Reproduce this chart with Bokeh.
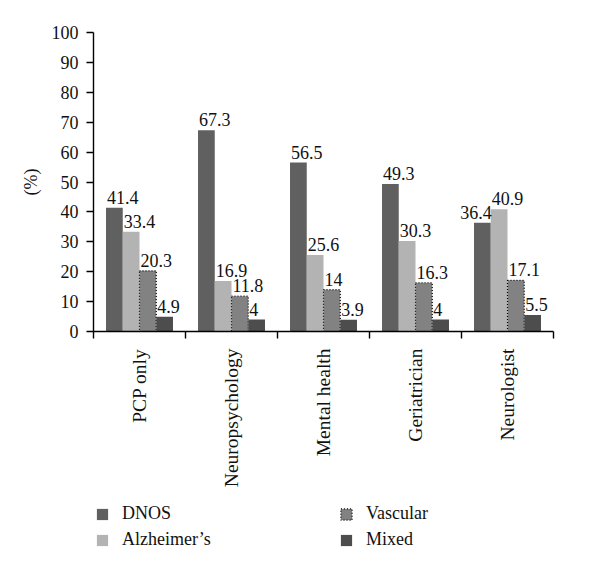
import math
from bokeh.plotting import figure
from bokeh.layouts import column
from bokeh.models import (ColumnDataSource, Range1d, FixedTicker, Legend, LegendItem)
from bokeh.transform import dodge
from bokeh.core.properties import value
from bokeh.embed import file_html
from bokeh.resources import INLINE

categories = ["PCP only", "Neuropsychology", "Mental health", "Geriatrician", "Neurologist"]
dnos = [41.4, 67.3, 56.5, 49.3, 36.4]
alzheimers = [33.4, 16.9, 25.6, 30.3, 40.9]
vascular = [20.3, 11.8, 14, 16.3, 17.1]
mixed = [4.9, 4, 3.9, 4, 5.5]
series_names = ["DNOS", "Alzheimer\u2019s", "Vascular", "Mixed"]
y_ticks = list(range(0, 101, 10))

FONT = "Liberation Serif"
W = 0.182
H1 = 495

xs = list(range(1, len(categories) + 1))
fields = ["dnos", "alz", "vasc", "mixed"]
series = [dnos, alzheimers, vascular, mixed]
data = dict(x=xs)
for f, s in zip(fields, series):
    data[f] = s
src = ColumnDataSource(data)

# label placement: left-aligned at the bar's left edge, unless the next bar is taller
# (then right-aligned at the bar's right edge so the labels don't collide)
offsets = [-1.5 * W, -0.5 * W, 0.5 * W, 1.5 * W]
lab_x, lab_y, lab_t, lab_a = [], [], [], []
for k, (s, off) in enumerate(zip(series, offsets)):
    nxt = series[k + 1] if k + 1 < len(series) else None
    for i, v in enumerate(s):
        right = nxt is not None and nxt[i] > v
        lab_x.append(xs[i] + off + (W / 2 if right else -W / 2))
        lab_y.append(v)
        lab_t.append(f"{v:g}")
        lab_a.append("right" if right else "left")
lab_src = ColumnDataSource(dict(x=lab_x, y=lab_y, t=lab_t, a=lab_a))

p = figure(width=600, height=H1, output_backend="svg", toolbar_location=None,
           x_range=Range1d(0.5, len(categories) + 0.5), y_range=Range1d(0, 100),
           min_border_left=93, min_border_right=47, min_border_top=32, min_border_bottom=H1 - 331)
p.outline_line_color = None
p.grid.visible = False
p.background_fill_color = "white"

styles = [dict(fill_color="#606060", line_color=None),
          dict(fill_color="#b3b3b3", line_color=None),
          dict(fill_color="#828282", line_color="black", line_width=1.2, line_dash="1 2"),
          dict(fill_color="#4d4d4d", line_color=None)]
for f, st, off in zip(fields, styles, offsets):
    p.vbar(x=dodge("x", off), top=f, width=W, source=src, **st)
p.text(x="x", y="y", text="t", text_align="a", source=lab_src, x_offset=1, y_offset=-4,
       text_baseline="bottom", text_font=value(FONT),
       text_font_size="18px", text_color="#111111")

# y axis
ya = p.yaxis[0]
ya.ticker = FixedTicker(ticks=y_ticks)
ya.axis_label = "(%)"
ya.axis_label_text_font = FONT
ya.axis_label_text_font_style = "normal"
ya.axis_label_text_font_size = "18px"
ya.axis_label_text_color = "#111111"
ya.axis_label_standoff = 8
ya.major_label_text_font = FONT
ya.major_label_text_font_size = "18px"
ya.major_label_text_color = "#111111"
ya.major_tick_in = 0
ya.major_tick_out = 7
ya.minor_tick_line_color = None
ya.major_label_standoff = 8
ya.axis_line_width = 1.4
ya.major_tick_line_width = 1.4

# x axis
xa = p.xaxis[0]
xa.ticker = FixedTicker(ticks=xs, minor_ticks=[x - 0.5 for x in xs] + [xs[-1] + 0.5])
xa.major_label_overrides = {x: c for x, c in zip(xs, categories)}
xa.major_label_orientation = math.pi / 2
xa.major_label_text_font = FONT
xa.major_label_text_font_size = "19.5px"
xa.major_label_text_color = "#111111"
xa.major_tick_line_color = None
xa.major_tick_out = 7
xa.major_tick_in = 0
xa.minor_tick_in = 0
xa.minor_tick_out = 7
xa.minor_tick_line_width = 1.4
xa.minor_tick_line_color = "black"
xa.major_label_standoff = 10
xa.axis_line_width = 1.4

# legend strip (same bars, hidden and far outside this strip's visible range)
H2 = 571 - H1
pl = figure(width=600, height=H2, output_backend="svg", toolbar_location=None,
            x_range=Range1d(1000, 1001), y_range=Range1d(-5000, -4999),
            x_axis_location=None, y_axis_location=None, min_border=0)
pl.outline_line_color = None
pl.grid.visible = False
leg_renderers = [pl.vbar(x=dodge("x", off), top=f, width=W, source=src, visible=False, **st)
                 for f, st, off in zip(fields, styles, offsets)]
legend = Legend(items=[LegendItem(label=n, renderers=[r]) for n, r in zip(series_names, leg_renderers)],
                orientation="vertical", ncols=2,
                location=(2, 21), padding=0, margin=0, border_line_alpha=0,
                background_fill_alpha=0, inactive_fill_alpha=0,
                label_text_font=FONT, label_text_font_size="18px", label_text_color="#111111",
                glyph_width=14, glyph_height=14, label_standoff=13, spacing=5,
                label_height=20, label_width=212)
pl.add_layout(legend, "center")

open("out.html", "w").write(file_html(column(p, pl, spacing=0), INLINE))
